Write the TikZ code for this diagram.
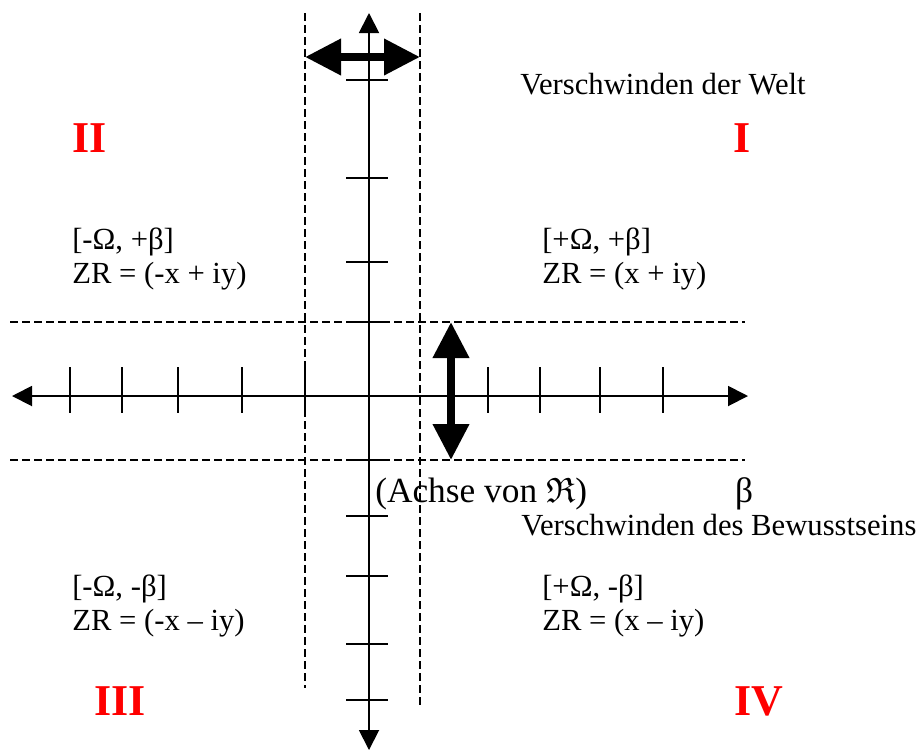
\documentclass[tikz,border=0pt]{standalone}
\usepackage{fontspec}
\usepackage{amssymb}
\setmainfont{Liberation Serif}
\usetikzlibrary{arrows.meta}

\begin{document}
\begin{tikzpicture}[
        x=0.75pt, y=-0.75pt,
        achse/.style={line width=1.4pt, {Triangle[length=15pt,width=15pt]}-{Triangle[length=15pt,width=15pt]}},
        strich/.style={line width=1.4pt},
        grenze/.style={line width=1.4pt, dash pattern=on 6pt off 3pt},
        pfeil/.style={line width=6pt, {Triangle[length=27pt,width=26pt]}-{Triangle[length=27pt,width=26pt]}},
        txt/.style={font=\fontsize{23}{25.5}\selectfont, inner sep=0pt, anchor=base west},
        gross/.style={txt, font=\fontsize{26.5}{30}\selectfont},
        quadrant/.style={txt, align=left},
        nummer/.style={font=\fontsize{33}{33}\selectfont\bfseries, text=red, inner sep=0pt, anchor=base}
    ]
        \useasboundingbox (0,0) rectangle (919,751);

        % achsen
        \coordinate (links) at (12,396);
        \coordinate (rechts) at (748,396);
        \coordinate (oben) at (369,13);
        \coordinate (unten) at (369,750);
        \draw[achse] (links) -- (rechts);
        \draw[achse] (unten) -- (oben);

        \foreach \x in {70,122,178,242,305,488,540,600,663}
            \draw[strich] (\x,367) -- (\x,413);
        \foreach \y in {80,178,262,322,460,516,576,644,700}
            \draw[strich] (346,\y) -- (388,\y);

        % grenzen
        \draw[grenze] (305,13) -- (305,688);
        \draw[grenze] (420,13) -- (420,706);
        \draw[grenze] (10,322) -- (745,322);
        \draw[grenze] (10,460) -- (745,460);

        % breite
        \coordinate (bl) at (305,57);
        \coordinate (br) at (420,57);
        \coordinate (ho) at (451,322);
        \coordinate (hu) at (451,460);
        \draw[pfeil] (bl) -- (br);
        \draw[pfeil] (ho) -- (hu);

        \node[nummer] (n1) at (742,152) {I};
        \node[nummer] (n2) at (90,152) {II};
        \node[nummer] (n3) at (120,715) {III};
        \node[nummer] (n4) at (759,715) {IV};

        \node[txt] (welt) at (520,94) {Verschwinden der Welt};
        \node[txt] (bewusst) at (521,535) {Verschwinden des Bewusstseins};
        \node[gross] (reell) at (375,502) {(Achse von $\mathfrak{R}$)};
        \node[gross, anchor=base] (beta) at (744,502) {β};

        \node[quadrant] (q2) at (72,283) {[-Ω, +β]\\ZR = (-x + iy)};
        \node[quadrant] (q1) at (542,283) {[+Ω, +β]\\ZR = (x + iy)};
        \node[quadrant] (q3) at (72,630) {[-Ω, -β]\\ZR = (-x – iy)};
        \node[quadrant] (q4) at (542,630) {[+Ω, -β]\\ZR = (x – iy)};
    \end{tikzpicture}
\end{document}
